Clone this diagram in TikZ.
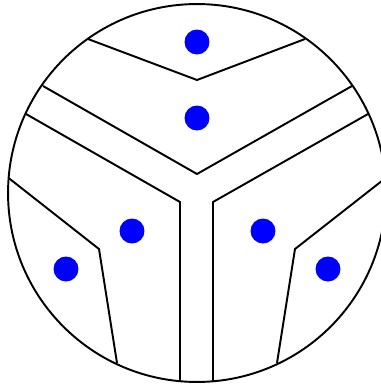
\documentclass[tikz,border=0pt]{standalone}
\usepackage{tikz}
\tikzset{
  seed/.style={circle, fill=blue, inner sep=0pt, minimum size=0.5cm},
  wall/.style={line width=1.1pt, line join=miter}
}

\begin{document}
\begin{tikzpicture}[x=0.02cm, y=-0.02cm]
  \useasboundingbox (0,0) rectangle (381,386);
  \draw[wall] (197,193) circle [radius=3.78cm];
  % top V lines
  \draw[wall] (88,39) -- (197,80) -- (305,39);
  \draw[wall] (43,86) -- (197,174) -- (352,86);
  % the two arms of the Y
  \draw[wall] (26,114) -- (180,202) -- (180,381.2);
  \draw[wall] (368,114) -- (213,202) -- (213,381.2);
  % lower cells
  \draw[wall] (8.6,178) -- (99,249) -- (117,363);
  \draw[wall] (385.6,178) -- (295,249) -- (277,363);
  % seeds
  \node[seed] (s1) at (197,42) {};
  \node[seed] (s2) at (197,118) {};
  \node[seed] (s3) at (132,231) {};
  \node[seed] (s4) at (263,231) {};
  \node[seed] (s5) at (66,269) {};
  \node[seed] (s6) at (328,269) {};
\end{tikzpicture}
\end{document}
